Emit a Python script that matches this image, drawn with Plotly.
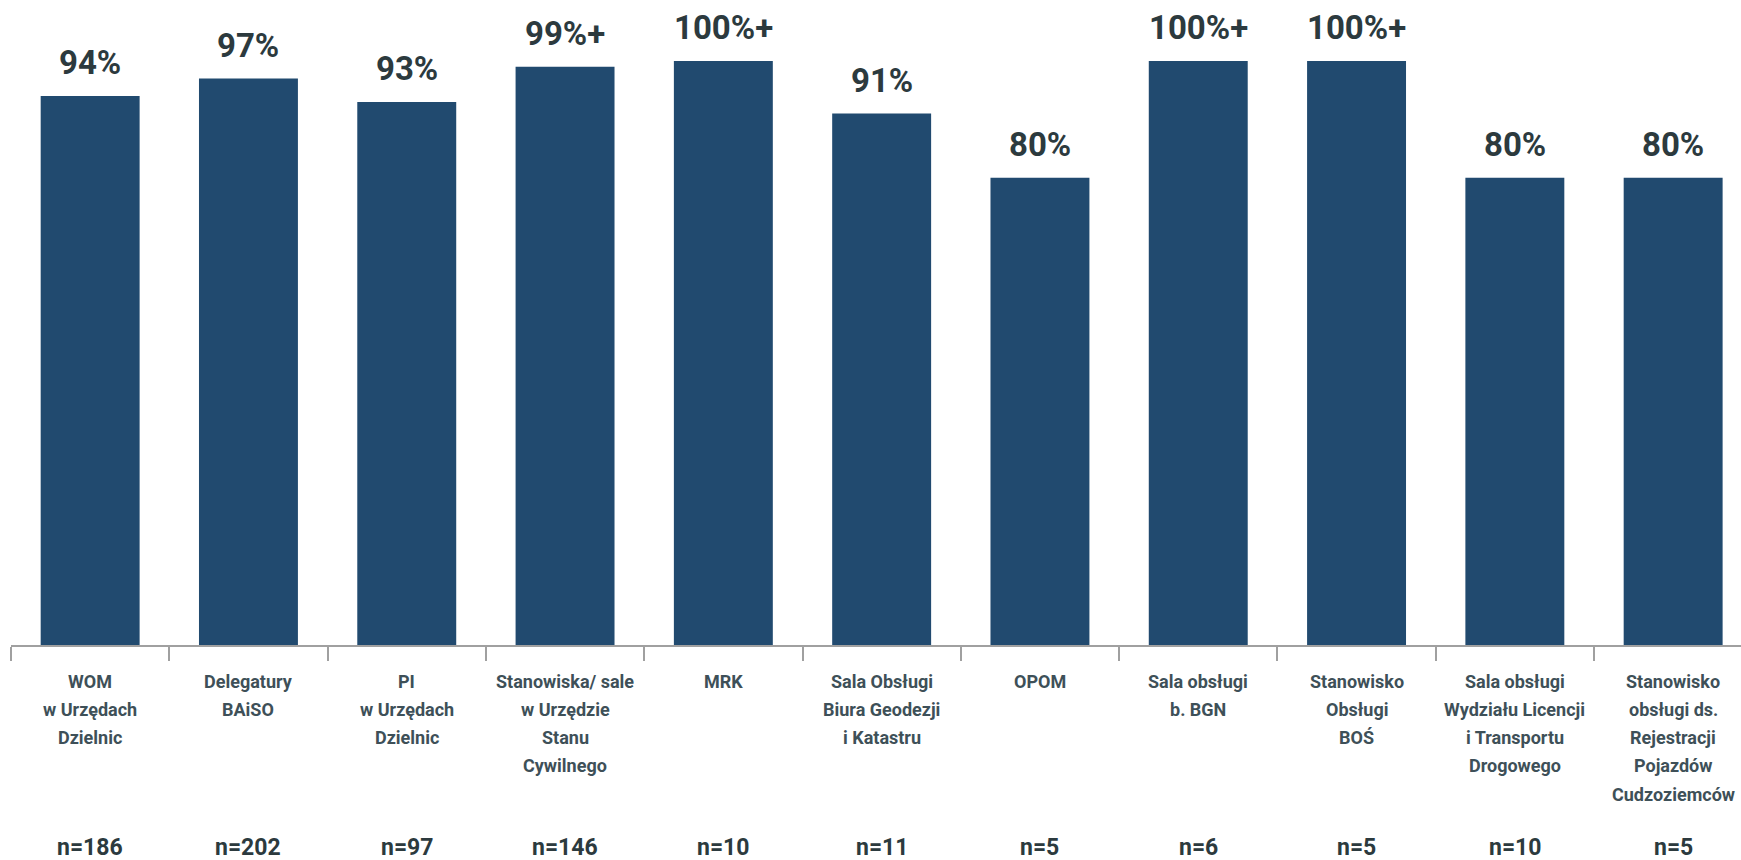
import plotly.graph_objects as go

categories = [
    "WOM<br>w Urzędach<br>Dzielnic",
    "Delegatury<br>BAiSO",
    "PI<br>w Urzędach<br>Dzielnic",
    "Stanowiska/ sale<br>w Urzędzie<br>Stanu<br>Cywilnego",
    "MRK",
    "Sala Obsługi<br>Biura Geodezji<br>i Katastru",
    "OPOM",
    "Sala obsługi<br>b. BGN",
    "Stanowisko<br>Obsługi<br>BOŚ",
    "Sala obsługi<br>Wydziału Licencji<br>i Transportu<br>Drogowego",
    "Stanowisko<br>obsługi ds.<br>Rejestracji<br>Pojazdów<br>Cudzoziemców",
]
values = [94, 97, 93, 99, 100, 91, 80, 100, 100, 80, 80]
value_labels = ["94%", "97%", "93%", "99%+", "100%+", "91%", "80%", "100%+", "100%+", "80%", "80%"]
sample_sizes = ["n=186", "n=202", "n=97", "n=146", "n=10", "n=11", "n=5", "n=6", "n=5", "n=10", "n=5"]

BAR_COLOR = "#214a6f"
VALUE_COLOR = "#2c3a3e"
LABEL_COLOR = "#3e5058"
FONT = "Roboto, Liberation Sans, sans-serif"

x = list(range(len(values)))

fig = go.Figure()
fig.add_trace(go.Bar(
    x=x, y=values, width=0.625,
    marker=dict(color=BAR_COLOR, line=dict(width=0)),
    hoverinfo="skip",
))

annotations = []
for i, (v, lab) in enumerate(zip(values, value_labels)):
    annotations.append(dict(
        x=i, y=v, xref="x", yref="y", text=f"<b>{lab}</b>", showarrow=False,
        yanchor="bottom", yshift=12,
        font=dict(family=FONT, size=33, color=VALUE_COLOR),
    ))

# category names, one annotation per line for wide line spacing
for i, cat in enumerate(categories):
    for j, line in enumerate(cat.split("<br>")):
        annotations.append(dict(
            x=i, y=0, xref="x", yref="y", text=f"<b>{line}</b>", showarrow=False,
            yanchor="middle", yshift=-36 - 28.3 * j,
            font=dict(family=FONT, size=18, color=LABEL_COLOR),
        ))

for i, n in enumerate(sample_sizes):
    annotations.append(dict(
        x=i, y=0, xref="x", yref="y", text=f"<b>{n}</b>", showarrow=False,
        yanchor="middle", yshift=-202,
        font=dict(family=FONT, size=23, color=VALUE_COLOR),
    ))

fig.update_layout(
    width=1741, height=860,
    margin=dict(l=11, r=0, t=0, b=215),
    paper_bgcolor="white", plot_bgcolor="white",
    showlegend=False,
    annotations=annotations,
    xaxis=dict(
        range=[-0.5, -0.5 + 1730 / 158.3],
        tickmode="array",
        tickvals=[k - 0.5 for k in range(len(values) + 1)],
        showticklabels=False,
        ticks="outside", ticklen=14, tickcolor="#a0a0a0", tickwidth=1.5,
        showline=True, linecolor="#a0a0a0", linewidth=1.5,
        showgrid=False, zeroline=False, fixedrange=True,
    ),
    yaxis=dict(
        range=[0, 645 / 5.84],
        visible=False, showgrid=False, zeroline=False, fixedrange=True,
    ),
)

fig.write_html("out.html")
